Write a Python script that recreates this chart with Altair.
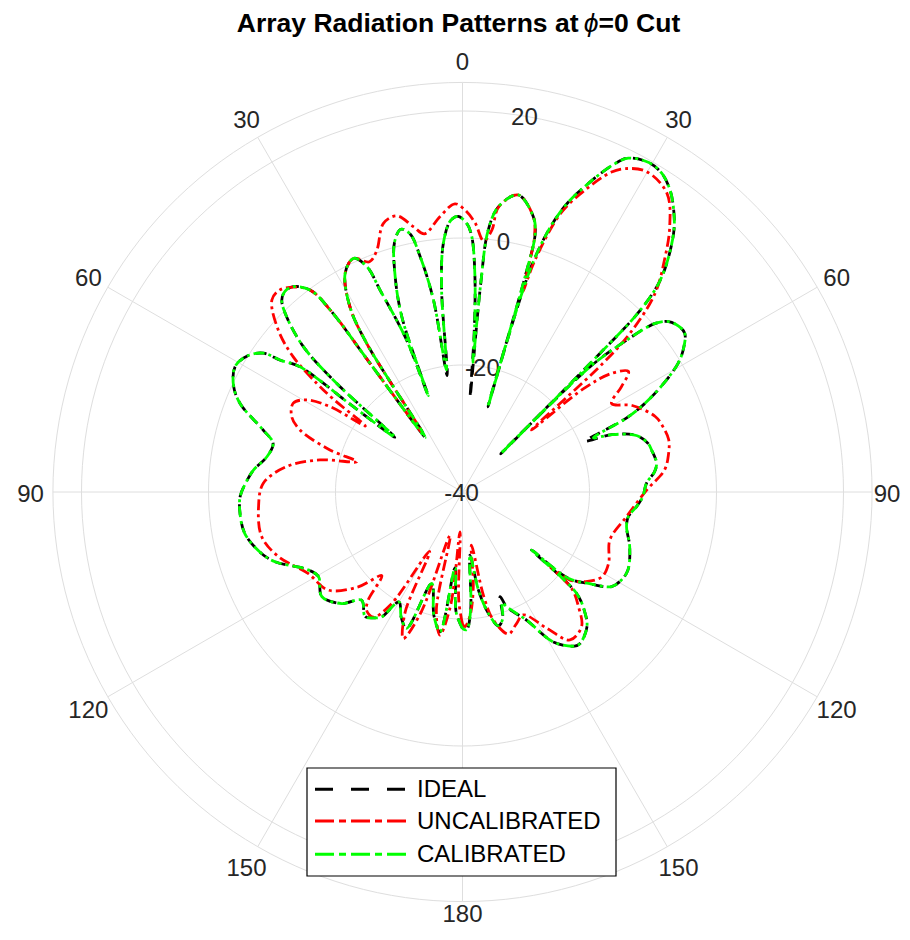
import altair as alt
import pandas as pd

# ---------------- layout constants ----------------
W, H = 894, 920            # chart size (page = chart + 8px margin)
CX, CY = 454.5, 484.0      # polar centre in chart pixels
R_MIN = -40.0              # dB at centre
R_OUT = 24.5               # dB at outer boundary
K = 6.35                   # pixels per dB
FONT = "Liberation Sans"
GRID = "#dedede"
TXT = "#262626"

# ---------------- axis / tick values ----------------
RING_DB = [-20, 0, 20]
RADIAL_LABEL_DB = [-40, -20, 0, 20]
RADIAL_LABEL_TXT = ["-40", "-20", "0", "20"]
RADIAL_LABEL_ANGLE = 9.5
SPOKE_DEG = [0, 30, 60, 90, 120, 150, 180, 210, 240, 270, 300, 330]
ANGLE_LABEL_DEG = [0, 30, 60, 90, 120, 150, 180, 210, 240, 270, 300, 330]
ANGLE_LABEL_TXT = ["0", "30", "60", "90", "120", "150", "180", "150", "120", "90", "60", "30"]
TITLE_PARTS = ["Array Radiation Patterns at", "\u03d5", "=0 Cut"]

# ---------------- data series (theta deg clockwise from top, gain dB) ----------------
TH_CAL = [-180, -177, -174.4, -170.9, -167, -161.4, -157.7, -154, -150, -147, -145, -142, -137,
          -132.7, -126.6, -120.4, -116.8, -110.4, -107, -100.8, -95, -91, -87, -84, -79.8, -75.6,
          -72.7, -68.3, -65, -61, -57.5, -55.1, -54.1, -52.4, -52, -51, -49.2, -47.6, -45.1, -43.3,
          -41.5, -39.5, -37, -36, -35.7, -34.2, -32.8, -31.3, -28.2, -25, -23, -22.2, -20.2, -19.6,
          -19.1, -17.2, -15.2, -13.2, -11.5, -10.2, -8.6, -7.5, -5.9, -4.4, -2.5, -0.9, 1, 2.1, 3.3,
          4.2, 4.6, 5.0, 5.6, 7.2, 10.6, 14.4, 15.7, 16.2, 16.6, 17.1, 19.4, 22.2, 24.9, 26.4, 29.5,
          32, 34.5, 37, 39.2, 42.8, 44.3, 44.8, 45.0, 45.5, 47, 48.8, 50.4, 52.5, 54.5, 57, 59.2,
          62.9, 65.6, 67.5, 69, 72, 75.3, 77.5, 81.6, 84, 87.3, 91.5, 94.8, 98.5, 101.9, 108.1,
          115.2, 119, 122.4, 126, 129.2, 130, 131.6, 134.5, 137.3, 142.2, 144, 148.8, 153.4, 158.9,
          160.2, 162.5, 165, 168, 170.8, 173.2, 176, 178.3, 180]
DB_CAL = [-18.5, -21, -28, -17.7, -20, -24.8, -16.8, -18, -20, -16.5, -15.8, -15.1, -16.7,
          -14.1, -12.4, -13.7, -12.8, -8.5, -6.9, -5.1, -4.8, -5, -6, -6.9, -8.7, -9.2,
          -7.1, -2.3, -0.2, 0.9, 0, -1.8, -4.6, -7.7, -18, -26.3, -13.8, -6.1, -0.9, 1.5,
          2.2, 1.9, -0.2, -4.6, -15, -29.6, -12.1, -5.9, -0.9, 0.6, -1.4, -5.7, -14.5, -23.9,
          -10.8, -4, 0.8, 2.5, 1.5, -2.3, -9.4, -20.6, -8, -0.7, 2.8, 3.4, 2.2, 0.2, -6,
          -14, -19.5, -7, 1.4, 5.3, 7.6, 4.8, 2.3, -4.7, -26, -1.9, 7.1, 12.5, 17, 18.7, 19.6,
          19.2, 17.7, 15.3, 12.6, 6.2, 0.5, -12, -31.5, -12, -5.7, 0.3, 2.1, 2.9, 3.0, 1.5, -0.5,
          -6, -11.3, -17.7, -14.8, -11.2, -9.8, -9.5, -9.1, -9.6, -11, -11.6, -12.5, -13.6, -13.6, -12.3,
          -11.2, -11.4, -12.2, -15.5, -18.5, -25.8, -16, -13, -11.1, -9.8, -10, -12.4, -17.4, -20.6,
          -21.5, -19, -18.2, -20.5, -24.4, -30, -21.5, -18.3, -18.5]

TH_IDEAL = [-180, -177, -174.4, -170.9, -167, -161.4, -157.7, -154, -150, -147, -145, -142, -137,
            -132.7, -126.6, -120.4, -116.8, -110.4, -107, -100.8, -95, -91, -87, -84, -79.8, -75.6,
            -72.7, -68.3, -65, -61, -57.5, -55.1, -54.1, -52.4, -52, -51, -49.2, -47.6, -45.1, -43.3,
            -41.5, -39.5, -37, -36, -35.7, -34.2, -32.8, -31.3, -28.2, -25, -23, -22.2, -20.2, -19.6,
            -19.1, -17.2, -15.2, -13.2, -11.5, -10.2, -8.6, -7.5, -5.9, -4.4, -2.5, -0.9, 1, 2.1, 3.3,
            4.2, 4.6, 5.0, 5.6, 7.2, 10.6, 14.4, 15.7, 16.2, 16.6, 17.1, 19.4, 22.2, 24.9, 26.4, 29.5,
            32, 34.5, 37, 39.2, 42.8, 44.3, 44.8, 45.0, 45.5, 47, 48.8, 50.4, 52.5, 54.5, 57, 59.2,
            62.9, 65.6, 67.5, 69, 72, 75.3, 77.5, 81.6, 84, 87.3, 91.5, 94.8, 98.5, 101.9, 108.1,
            115.2, 119, 122.4, 126, 129.2, 130, 131.6, 134.5, 137.3, 142.2, 144, 148.8, 153.4, 158.9,
            160.2, 162.5, 165, 168, 170.8, 173.2, 176, 178.3, 180]
DB_IDEAL = [-18.5, -21, -28, -17.7, -20, -24.8, -16.8, -18, -20, -16.5, -15.8, -15.1, -16.7,
            -14.1, -12.4, -13.7, -12.8, -8.5, -6.9, -5.1, -4.8, -5, -6, -6.9, -8.7, -9.2,
            -7.1, -2.3, -0.2, 0.9, 0, -1.8, -4.6, -7.7, -18, -26.3, -13.8, -6.1, -0.9, 1.5,
            2.2, 1.9, -0.2, -4.6, -15, -29.6, -12.1, -5.9, -0.9, 0.6, -1.4, -5.7, -14.5, -23.9,
            -10.8, -4, 0.8, 2.5, 1.5, -2.3, -9.4, -21.5, -8, -0.7, 2.8, 3.4, 2.2, 0.2, -6,
            -15, -25, -7, 1.4, 5.3, 7.6, 4.8, 2.3, -4.7, -26, -1.9, 7.1, 12.5, 17, 18.7, 19.6,
            19.2, 17.7, 15.3, 12.6, 6.2, 0.5, -12, -31.5, -12, -5.7, 0.3, 2.1, 2.9, 3.0, 1.5, -0.5,
            -6, -11.3, -19, -14.8, -11.2, -9.8, -9.5, -9.1, -9.6, -11, -11.6, -12.5, -13.6, -13.6, -12.3,
            -11.2, -11.4, -12.2, -15.5, -18.5, -25.8, -16, -13, -11.1, -9.8, -10, -12.4, -17.4, -20.6,
            -22.5, -19, -18.2, -20.5, -24.4, -30, -21.5, -18.3, -18.5]

TH_UNC = [-180, -178, -176.4, -174, -171, -167.5, -164, -161, -158, -154.5, -151, -147.5, -144.5,
          -141, -138.9, -136, -132.3, -126.1, -117.8, -109.4, -102.5, -94.1, -87.5, -81.8, -77.3,
          -74, -72.4, -69.1, -66.2, -62.3, -59.4, -57.2, -55.8, -54.3, -53.3, -51.4, -48.7, -44.8,
          -42.1, -39.5, -37, -36, -35.7, -34.2, -32.8, -31.3, -28.2, -25, -22, -19.5, -16.4, -13.4,
          -10.5, -8.4, -4.7, -1.5, 0.5, 2.7, 4.8, 6.4, 7.2, 10.6, 14.4, 15.7, 16.4, 16.8, 17.3, 19.4,
          22.2, 24.9, 26.7, 29.9, 34.4, 38, 41, 44.1, 46.5, 47.5, 48.1, 49.5, 51.5, 54, 56.5, 59.3,
          63, 68.6, 72, 75.8, 79.5, 83.8, 89.4, 98.6, 108, 116, 121.3, 126, 129.3, 130.3, 131.5,
          134.7, 138.5, 144, 148.3, 153.7, 158, 162.1, 166.5, 168.5, 170.5, 173.5, 176.5, 179, 180]
DB_UNC = [-19.2, -23, -33.7, -22, -17.2, -21, -32.9, -20, -15.1, -19, -29.3, -19, -15.8,
          -16, -17.4, -21.7, -17.8, -13.8, -12.5, -9.3, -7.6, -7.8, -8.6, -12, -17,
          -22.7, -18.1, -12.6, -10.6, -9.9, -11.5, -15.2, -21.5, -15, -11.4, -5.9, -1.4, 2.6,
          2.9, 1.8, -0.2, -4.6, -15, -29, -12.1, -5.9, -0.9, 0.6, -0.9, 0.4, 4.1, 4.7,
          2.5, 1.1, 3.5, 5.4, 4.4, 2.4, -0.3, 1.5, 5.2, 7.6, 4.8, 2, -4.1, -7, -2, 6.5,
          11.5, 15.5, 17, 18.2, 17, 13, 8.5, 3.6, -3.5, -10, -25.4, -15, -10, -7.7, -10, -12.7,
          -10, -7.4, -6.8, -6.5, -7, -8, -11, -13.9, -15.6, -14.4, -14.3, -16, -18.1, -22, -17,
          -14.3, -11.7, -11.2, -14.8, -18.4, -17.5, -16.5, -19.3, -23.2, -31.5, -25, -20.5, -18.8, -19.2]

SERIES = [
    ("IDEAL", TH_IDEAL, DB_IDEAL, "#000000", [11, 7]),
    ("UNCALIBRATED", TH_UNC, DB_UNC, "#ff0000", [11, 4, 3, 4]),
    ("CALIBRATED", TH_CAL, DB_CAL, "#00ff00", [11, 4, 3, 4]),
]

# legend layout
LEG_BOX = dict(x=299, x2=608, y=760, y2=868)
LEG_ROW_Y = [781.3, 813.0, 846.3]
LEG_LINE_X = (307, 400)
LEG_TEXT_X = 409
LEGEND_DASH = {"IDEAL": [18, 18], "UNCALIBRATED": [19, 5, 7, 5], "CALIBRATED": [19, 5, 7, 5]}

# ---------------- helpers ----------------
XS = alt.Scale(domain=[0, W], range=[0, W], nice=False, zero=False)
YS = alt.Scale(domain=[0, H], range=[0, H], nice=False, zero=False)
X = alt.X("x:Q", scale=XS, axis=None)
Y = alt.Y("y:Q", scale=YS, axis=None)


def px_expr(db_expr, th_expr):
    r = f"(({db_expr}) - ({R_MIN})) * {K}"
    xe = f"{CX} + {r} * sin(({th_expr}) * PI / 180)"
    ye = f"{CY} - {r} * cos(({th_expr}) * PI / 180)"
    return xe, ye


layers = []

# grid rings (including outer boundary)
ring_df = pd.DataFrame([(db, a) for db in RING_DB + [R_OUT] for a in range(0, 361, 2)],
                       columns=["ring", "a"])
rx, ry = px_expr("datum.ring", "datum.a")
layers.append(
    alt.Chart(ring_df).transform_calculate(x=rx, y=ry)
    .mark_line(color=GRID, strokeWidth=1)
    .encode(x=X, y=Y, detail="ring:N", order="a:Q")
)

# spokes
spoke_df = pd.DataFrame({"a": SPOKE_DEG})
sx0, sy0 = px_expr(str(R_MIN), "datum.a")
sx1, sy1 = px_expr(str(R_OUT), "datum.a")
layers.append(
    alt.Chart(spoke_df).transform_calculate(x=sx0, y=sy0, x2=sx1, y2=sy1)
    .mark_rule(color=GRID, strokeWidth=1)
    .encode(x=X, y=Y, x2="x2:Q", y2="y2:Q")
)

# angle labels (kept inside the drawing at the right and bottom edges)
ang_df = pd.DataFrame({"a": ANGLE_LABEL_DEG, "t": ANGLE_LABEL_TXT})
LABEL_R_DB = 432 / K + R_MIN
ax, ay = px_expr(str(LABEL_R_DB), "datum.a")
layers.append(
    alt.Chart(ang_df).transform_calculate(x0=ax, y0=ay)
    .transform_calculate(x=f"min(datum.x0, {W - 15})", y=f"min(datum.y0, {H - 16})")
    .mark_text(font=FONT, fontSize=24, color=TXT, align="center", baseline="middle", dy=3)
    .encode(x=X, y=Y, text="t:N")
)

# radial tick labels
rad_df = pd.DataFrame({"db": RADIAL_LABEL_DB, "t": RADIAL_LABEL_TXT})
tx, ty = px_expr("datum.db", str(RADIAL_LABEL_ANGLE))
layers.append(
    alt.Chart(rad_df).transform_calculate(x=tx, y=ty)
    .mark_text(font=FONT, fontSize=24, color=TXT, align="center", baseline="middle", dy=2, dx=-1)
    .encode(x=X, y=Y, text="t:N")
)

# pattern curves
for name, th, db, col, dash in SERIES:
    df = pd.DataFrame({"theta": th, "db": db})
    df["i"] = range(len(df))
    lx, ly = px_expr("datum.db", "datum.theta")
    layers.append(
        alt.Chart(df).transform_calculate(x=lx, y=ly)
        .mark_line(color=col, strokeWidth=2.8, strokeDash=dash, interpolate="catmull-rom")
        .encode(x=X, y=Y, order="i:Q")
    )

# legend box
layers.append(
    alt.Chart(pd.DataFrame({"k": [0]}))
    .mark_rect(fill="white", stroke="black", strokeWidth=1.2)
    .encode(x=alt.value(LEG_BOX["x"]), x2=alt.value(LEG_BOX["x2"]),
            y=alt.value(LEG_BOX["y"]), y2=alt.value(LEG_BOX["y2"]))
)
for (name, th, db, col, dash), ry_ in zip(SERIES, LEG_ROW_Y):
    ldf = pd.DataFrame({"label": [name], "ly": [ry_]})
    layers.append(
        alt.Chart(ldf).mark_rule(color=col, strokeWidth=3, strokeDash=LEGEND_DASH[name])
        .encode(x=alt.value(LEG_LINE_X[0]), x2=alt.value(LEG_LINE_X[1]),
                y=alt.Y("ly:Q", scale=YS, axis=None))
    )
    layers.append(
        alt.Chart(ldf).mark_text(font=FONT, fontSize=24, color="black", align="left",
                                 baseline="alphabetic", dy=8)
        .encode(x=alt.value(LEG_TEXT_X), y=alt.Y("ly:Q", scale=YS, axis=None), text="label:N")
    )

# title (three pieces so the phi can be italic, as in the reference)
title_y = 24
layers.append(
    alt.Chart(pd.DataFrame({"t": [TITLE_PARTS[0]]}))
    .mark_text(font=FONT, fontSize=26.5, fontWeight="bold", color="black",
               align="right", baseline="alphabetic")
    .encode(x=alt.value(570.5), y=alt.value(title_y), text="t:N")
)
layers.append(
    alt.Chart(pd.DataFrame({"t": [TITLE_PARTS[1]]}))
    .mark_text(font=FONT, fontSize=26.5, fontStyle="italic", color="black",
               align="center", baseline="alphabetic")
    .encode(x=alt.value(583), y=alt.value(title_y), text="t:N")
)
layers.append(
    alt.Chart(pd.DataFrame({"t": [TITLE_PARTS[2]]}))
    .mark_text(font=FONT, fontSize=26.5, fontWeight="bold", color="black",
               align="left", baseline="alphabetic")
    .encode(x=alt.value(590.5), y=alt.value(title_y), text="t:N")
)

chart = (
    alt.layer(*layers)
    .properties(width=W, height=H, autosize="none", padding=0)
    .configure(background="white")
    .configure_view(stroke=None)
)

chart.save("out.html", embed_options={"renderer": "svg", "actions": False})
